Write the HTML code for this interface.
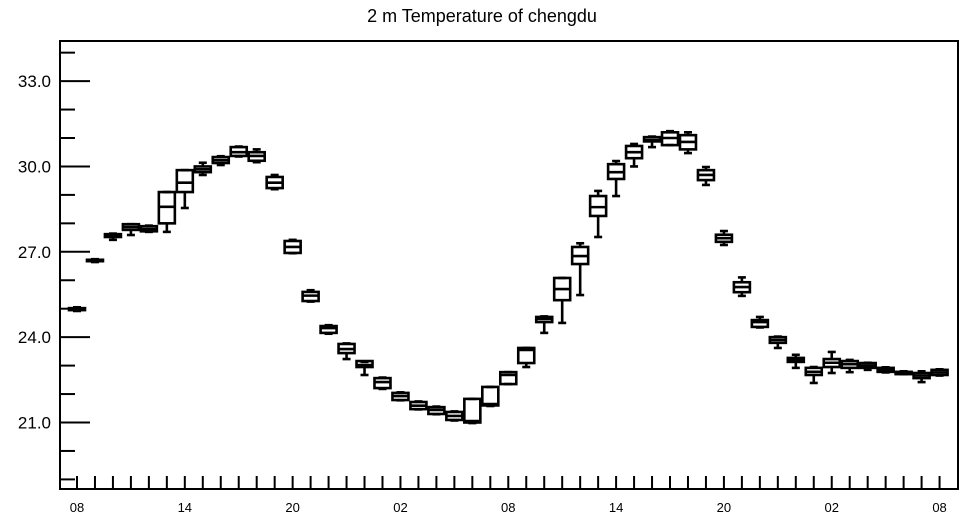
<!DOCTYPE html>
<html><head><meta charset="utf-8"><style>
html,body{margin:0;padding:0;background:#fff;}
svg{display:block;font-family:"Liberation Sans",Arial,sans-serif;}
</style></head><body>
<svg id="chart" width="964" height="520" viewBox="0 0 964 520">
<text x="482" y="22" text-anchor="middle" font-size="18" fill="#000">2 m Temperature of chengdu</text>
<rect x="60" y="41" width="898" height="448" fill="none" stroke="#000" stroke-width="2"/>
<g id="axes"></g>
<g id="boxes"></g>
</svg>
<script>
// hour index 0..48 (08 day1 -> 08 day3)
const mins    = [24.92,26.64,27.42,27.59,27.70,27.70,28.54,29.70,30.05,30.35,30.15,29.20,26.95,25.25,24.12,23.23,22.67,22.18,21.78,21.46,21.29,21.07,20.98,21.58,22.35,22.95,24.15,24.50,25.48,27.52,28.96,30.00,30.68,30.75,30.47,29.35,27.24,25.45,24.34,23.62,22.92,22.39,22.74,22.77,22.85,22.76,22.70,22.42,22.65];
const q1s     = [24.95,26.67,27.52,27.77,27.72,28.00,29.10,29.80,30.12,30.37,30.20,29.24,26.96,25.27,24.15,23.44,22.95,22.21,21.79,21.47,21.30,21.09,21.00,21.60,22.35,23.09,24.53,25.30,26.57,28.26,29.56,30.29,30.88,30.75,30.60,29.52,27.35,25.58,24.36,23.80,23.13,22.67,22.95,22.92,22.92,22.78,22.70,22.56,22.67];
const medians = [24.98,26.69,27.58,27.87,27.80,28.58,29.43,29.90,30.22,30.50,30.37,29.43,27.17,25.46,24.32,23.58,23.02,22.42,21.93,21.59,21.44,21.23,21.05,21.65,22.67,23.55,24.64,25.69,26.85,28.57,29.80,30.50,30.93,31.00,30.86,29.70,27.48,25.76,24.53,23.90,23.20,22.78,23.10,23.05,23.00,22.85,22.74,22.65,22.76];
const q3s     = [25.02,26.72,27.62,27.97,27.90,29.10,29.87,30.00,30.33,30.68,30.50,29.63,27.38,25.59,24.39,23.76,23.16,22.56,22.04,21.72,21.54,21.37,21.83,22.25,22.77,23.62,24.71,26.08,27.17,28.96,30.08,30.72,31.03,31.20,31.10,29.87,27.60,25.93,24.60,24.00,23.27,22.92,23.23,23.16,23.09,22.92,22.78,22.74,22.85];
const maxs    = [25.05,26.74,27.64,27.97,27.92,29.10,29.87,30.13,30.36,30.70,30.60,29.70,27.42,25.65,24.42,23.78,23.13,22.58,22.06,21.74,21.56,21.39,21.83,22.25,22.77,23.62,24.73,26.08,27.30,29.14,30.19,30.79,31.05,31.24,31.20,29.98,27.73,26.10,24.71,24.02,23.38,22.95,23.48,23.20,23.10,22.94,22.80,22.80,22.87];
const yTickValues = [21,24,27,30,33];
const yTickLabels = ["21.0","24.0","27.0","30.0","33.0"];
const xTickLabels = ["08","14","20","02","08","14","20","02","08"];

const NS = "http://www.w3.org/2000/svg";
const x0 = 77, dx = 17.97;
function xScale(i){ return x0 + i*dx; }
function yScale(v){ return 422.5 - (v-21)*28.45; }
function mk(tag, attrs, parent){
  const e = document.createElementNS(NS, tag);
  for (const k in attrs) e.setAttribute(k, attrs[k]);
  parent.appendChild(e); return e;
}
const axes = document.getElementById('axes');
const boxes = document.getElementById('boxes');

for (let v = 19; v <= 34; v++) {
  const y = yScale(v);
  if (y < 42 || y > 488) continue;
  const major = yTickValues.indexOf(v) >= 0;
  const t = mk('line', {x1:60, x2: major?90:75, y1:y, y2:y, stroke:'#000', 'stroke-width':2}, axes);
  
  
}
yTickValues.forEach((v, k) => {
  const t = mk('text', {x:51, y:yScale(v)+6, 'text-anchor':'end', 'font-size':17, fill:'#000'}, axes);
  t.textContent = yTickLabels[k];
  
  
});
for (let i = 0; i < mins.length; i++) {
  const x = xScale(i);
  const t = mk('line', {x1:x, x2:x, y1:489, y2:476, stroke:'#000', 'stroke-width':2}, axes);
  
  
}
xTickLabels.forEach((lab, k) => {
  const t = mk('text', {x:xScale(k*6), y:512, 'text-anchor':'middle', 'font-size':13, fill:'#000'}, axes);
  t.textContent = lab;
  
  
});

for (let i = 0; i < mins.length; i++) {
  const x = xScale(i), w = 16, cw = 8;
  const g = mk('g', {stroke:'#000', 'stroke-width':2.6, fill:'none'}, boxes);
  
  
  const yq1 = yScale(q1s[i]), yq3 = yScale(q3s[i]);
  mk('line', {x1:x, x2:x, y1:yScale(maxs[i]), y2:yq3}, g);
  mk('line', {x1:x, x2:x, y1:yq1, y2:yScale(mins[i])}, g);
  mk('line', {x1:x-cw/2, x2:x+cw/2, y1:yScale(maxs[i]), y2:yScale(maxs[i])}, g);
  mk('line', {x1:x-cw/2, x2:x+cw/2, y1:yScale(mins[i]), y2:yScale(mins[i])}, g);
  mk('rect', {x:x-w/2, y:yq3, width:w, height:Math.max(yq1-yq3, 1)}, g);
  mk('line', {x1:x-w/2, x2:x+w/2, y1:yScale(medians[i]), y2:yScale(medians[i])}, g);
}
</script>
</body></html>
